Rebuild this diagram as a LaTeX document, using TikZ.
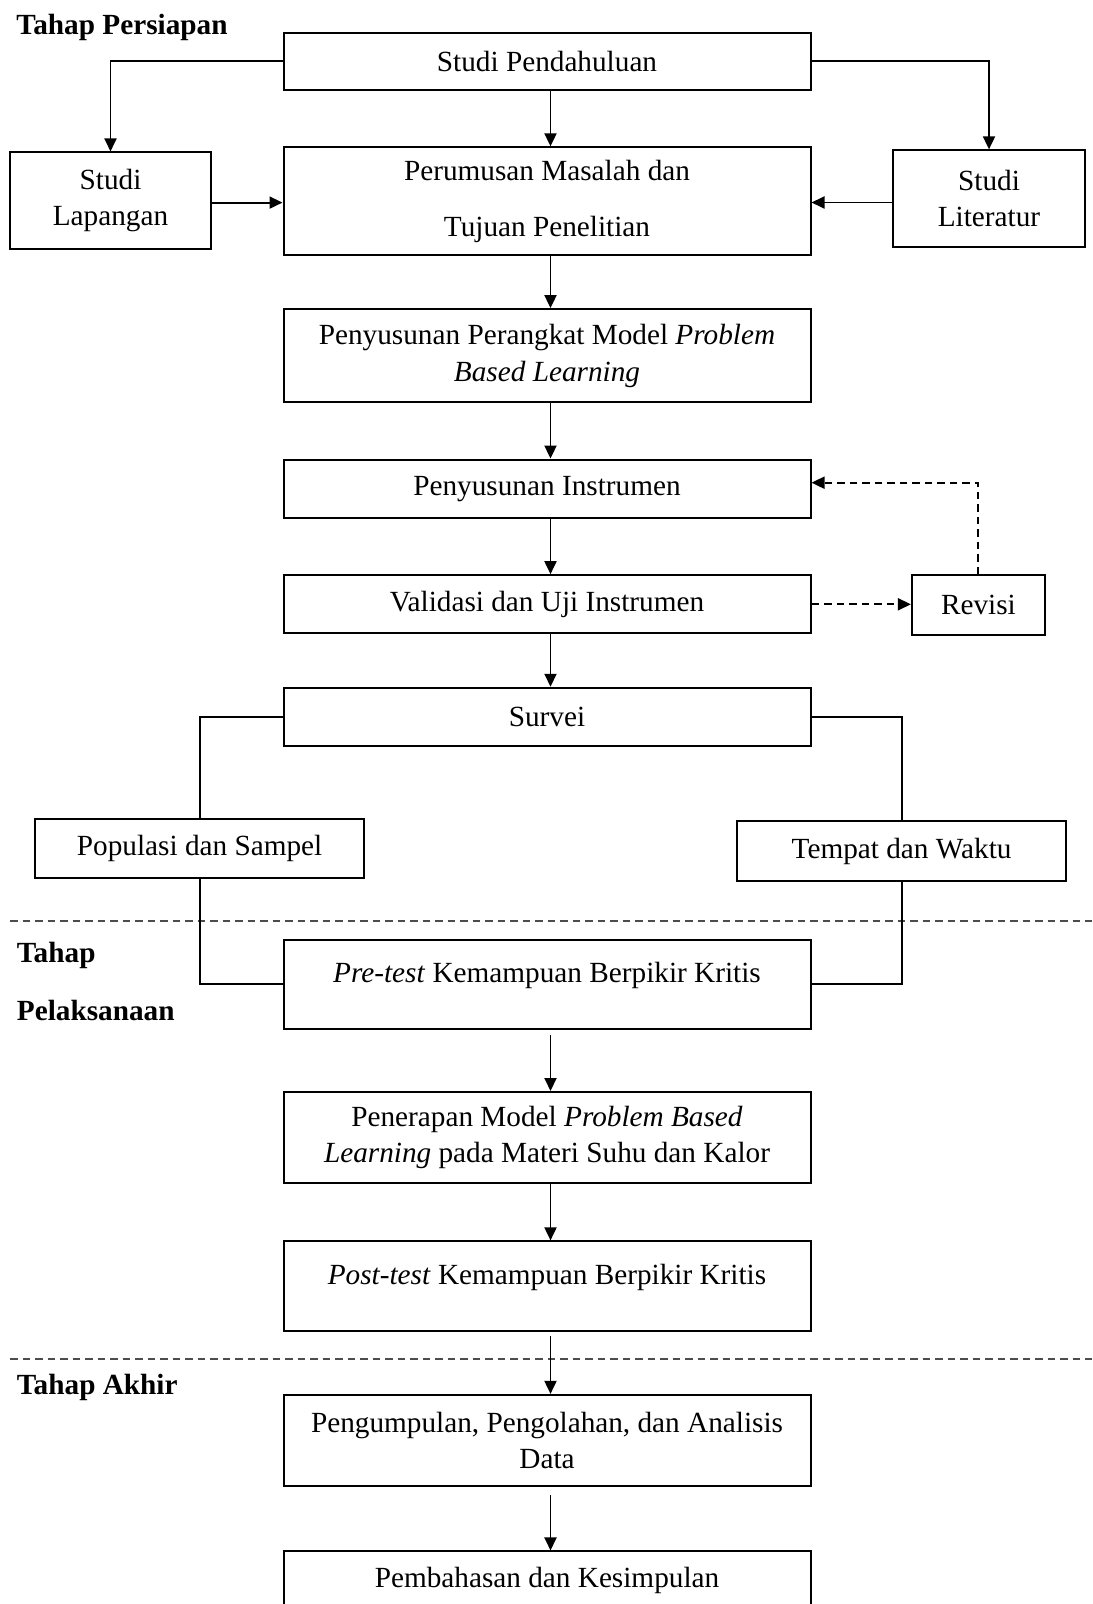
\documentclass[tikz,border=0pt]{standalone}
\usepackage{fontspec}
\setmainfont{Liberation Serif}
\usetikzlibrary{arrows.meta,calc}
\begin{document}
\begin{tikzpicture}[x=0.4pt,y=-0.4pt,
  every node/.style={font=\fontsize{11.7}{14.7}\selectfont, inner sep=0pt},
  box/.style={draw, line width=0.8pt, align=center},
  mainbox/.style={box, minimum width=210.8pt},
  lab/.style={anchor=west, font=\fontsize{11.7}{14.7}\selectfont\bfseries},
  arr/.style={line width=0.75pt, -{Triangle[length=5.2pt,width=4.8pt]}},
  ln/.style={line width=0.75pt},
  dsh/.style={line width=0.75pt, dash pattern=on 3pt off 2pt},
  divider/.style={line width=0.7pt, dash pattern=on 3pt off 2pt, draw=black!70}]
\useasboundingbox (0,0) rectangle (1092,1604);

% labels
\node[lab] (l1) at (16,27) {Tahap Persiapan};
\node[lab] (l2) at (16.4,955.5) {Tahap};
\node[lab] (l3) at (16.4,1010.5) {Pelaksanaan};
\node[lab] (l4) at (16.4,1387.5) {Tahap Akhir};

% dividers
\draw[divider] (10,921) -- (1092,921);
\draw[divider] (10,1359) -- (1092,1359);

% boxes
\node[mainbox, minimum height=22.9pt] (pend) at (547,61.4) {Studi Pendahuluan};
\node[box, minimum width=80.2pt, minimum height=38.5pt] (lap) at (110.5,200.6) {Studi\\Lapangan};
\node[mainbox, minimum height=43pt] (per) at (547,201.1) {Perumusan Masalah dan\\[7.7pt]Tujuan Penelitian};
\node[box, minimum width=76.5pt, minimum height=38.5pt] (lit) at (989,198.5) {Studi\\Literatur};
\node[mainbox, minimum height=37.2pt] (pra) at (547,355.6) {Penyusunan Perangkat Model \textit{Problem}\\\textit{Based Learning}};
\node[mainbox, minimum height=23.3pt] (ins) at (547,488.7) {Penyusunan Instrumen};
\node[mainbox, minimum height=23.3pt] (val) at (547,604.3) {Validasi dan Uji Instrumen};
\node[box, minimum width=53.2pt, minimum height=23.8pt] (rev) at (978.4,604.8) {Revisi};
\node[mainbox, minimum height=23.3pt] (sur) at (547,716.9) {Survei};
\node[box, minimum width=131.8pt, minimum height=23.8pt] (pop) at (199.6,848.4) {Populasi dan Sampel};
\node[box, minimum width=131.8pt, minimum height=24.1pt] (tem) at (901.6,851) {Tempat dan Waktu};
\node[mainbox, minimum height=35.6pt] (pre) at (547,984) {};
\node (pretx) at (547,975.5) {\textit{Pre-test} Kemampuan Berpikir Kritis};
\node[mainbox, minimum height=36.4pt] (pen) at (547,1137.5) {Penerapan Model \textit{Problem Based}\\\textit{Learning} pada Materi Suhu dan Kalor};
\node[mainbox, minimum height=36pt] (post) at (547,1286.4) {};
\node (posttx) at (547,1277.5) {\textit{Post-test} Kemampuan Berpikir Kritis};
\node[mainbox, minimum height=36.4pt] (peng) at (547,1440.4) {Pengumpulan, Pengolahan, dan Analisis\\Data};
\node[mainbox, minimum height=23.3pt] (pem) at (547,1580.6) {Pembahasan dan Kesimpulan};

% connectors
\draw[arr] (pend.west) -| (lap.north);
\draw[arr] (pend.east) -| (lit.north);
\draw[arr] ($(pend.south)+(3.5,0)$) -- ($(per.north)+(3.5,0)$);
\draw[arr] ($(lap.east)+(0,2)$) -- ($(lap.east -| per.west)+(0,2)$);
\draw[arr] ($(lit.west)+(0,4)$) -- ($(lit.west -| per.east)+(0,4)$);
\draw[arr] ($(per.south)+(3.5,0)$) -- ($(pra.north)+(3.5,0)$);
\draw[arr] ($(pra.south)+(3.5,0)$) -- ($(ins.north)+(3.5,0)$);
\draw[arr] ($(ins.south)+(3.5,0)$) -- ($(val.north)+(3.5,0)$);
\draw[arr] ($(val.south)+(3.5,0)$) -- ($(sur.north)+(3.5,0)$);
\draw[dsh, -{Triangle[length=5.2pt,width=4.8pt]}] (val.east) -- (val.east -| rev.west);
\draw[dsh, -{Triangle[length=5.2pt,width=4.8pt]}] (rev.north) |- ($(ins.east)+(0,-6)$);
\draw[ln] (sur.west) -| (pop.north);
\draw[ln] (pop.south) |- (pre.west);
\draw[ln] (sur.east) -| (tem.north);
\draw[ln] (tem.south) |- (pre.east);
\draw[arr, shorten <=2pt] ($(pre.south)+(3.5,0)$) -- ($(pen.north)+(3.5,0)$);
\draw[arr] ($(pen.south)+(3.5,0)$) -- ($(post.north)+(3.5,0)$);
\draw[arr, shorten <=1.6pt] ($(post.south)+(3.5,0)$) -- ($(peng.north)+(3.5,0)$);
\draw[arr, shorten <=3.2pt] ($(peng.south)+(3.5,0)$) -- ($(pem.north)+(3.5,0)$);
\end{tikzpicture}
\end{document}
